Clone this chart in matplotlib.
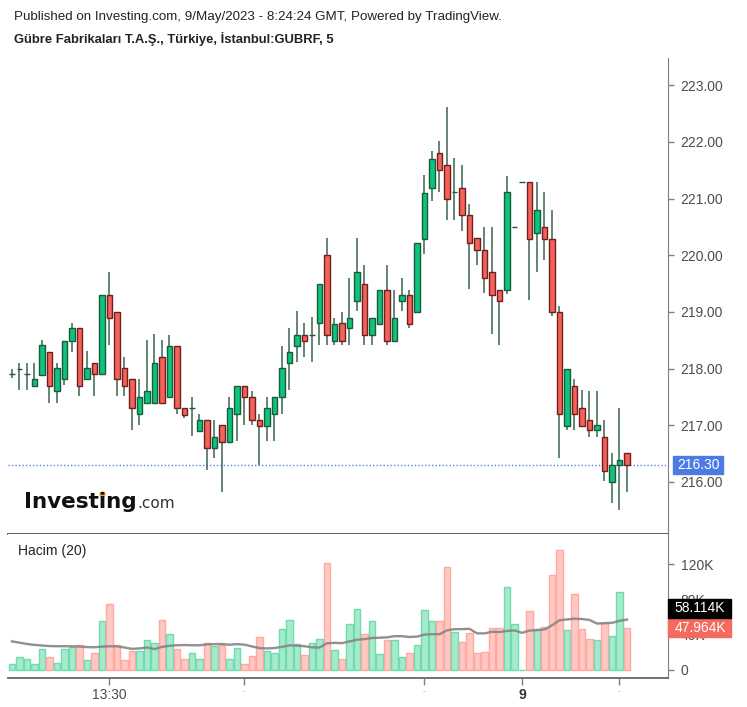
import numpy as np
import pandas as pd
import matplotlib.pyplot as plt
import matplotlib.transforms as mtransforms
from matplotlib.patches import Rectangle
from matplotlib.lines import Line2D

plt.rcParams['font.family'] = ['Liberation Sans', 'DejaVu Sans']

# 5 minute candles (GUBRF)
opens = [217.90, 218.00, 217.90, 217.69, 217.89, 218.29, 217.61, 217.81, 218.49, 218.71,
         217.81, 218.10, 217.90, 219.30, 219.00, 218.01, 217.81, 217.19, 217.39, 217.39,
         218.21, 217.50, 218.40, 217.30, 217.31, 216.90, 217.10, 216.59, 217.00, 216.70,
         217.19, 217.70, 217.50, 217.10, 216.99, 217.19, 217.50, 218.10, 218.40, 218.60,
         218.60, 218.80, 220.01, 218.49, 218.80, 218.71, 219.19, 219.50, 218.60, 218.79,
         219.39, 218.49, 219.20, 219.30, 219.00, 220.29, 221.19, 221.81, 221.59, 221.11,
         221.19, 220.71, 220.30, 220.09, 219.70, 219.39, 219.39, 220.49, 221.30, 221.30,
         220.40, 220.49, 220.29, 218.99, 216.99, 217.69, 217.30, 217.10, 216.91, 216.79,
         216.00, 216.29, 216.51]
highs = [218.00, 218.10, 218.10, 218.10, 218.50, 218.29, 218.10, 218.49, 218.80, 218.71,
         218.31, 218.10, 219.30, 219.70, 219.00, 218.21, 217.81, 217.81, 218.50, 218.61,
         218.50, 218.60, 218.40, 217.30, 217.50, 217.19, 217.10, 217.10, 217.00, 217.50,
         217.70, 217.70, 217.61, 217.19, 217.50, 217.50, 218.40, 218.72, 219.01, 218.80,
         218.91, 219.50, 220.30, 218.90, 219.00, 219.60, 220.30, 219.82, 218.90, 219.39,
         219.82, 219.39, 219.60, 219.39, 220.21, 221.42, 221.84, 222.02, 222.61, 221.71,
         221.59, 220.91, 220.30, 220.50, 220.50, 219.39, 221.40, 220.49, 221.30, 221.30,
         221.30, 221.11, 220.80, 219.10, 218.00, 217.81, 217.62, 217.61, 217.61, 217.10,
         216.51, 217.31, 216.51]
lows = [217.83, 217.62, 217.62, 217.69, 217.89, 217.40, 217.40, 217.71, 218.29, 217.51,
        217.81, 217.51, 217.90, 218.42, 217.51, 217.51, 216.92, 217.00, 217.39, 217.39,
        217.39, 217.50, 217.20, 217.12, 216.81, 216.90, 216.21, 216.42, 215.82, 216.70,
        216.72, 217.00, 217.00, 216.30, 216.72, 216.72, 217.20, 217.62, 218.11, 218.21,
        218.11, 218.41, 218.41, 218.42, 218.42, 218.42, 219.01, 218.42, 218.42, 218.79,
        218.42, 218.49, 219.01, 218.72, 219.00, 220.02, 220.95, 221.12, 220.62, 220.62,
        220.42, 219.41, 219.82, 219.33, 218.61, 218.42, 219.32, 220.49, 221.30, 219.21,
        219.71, 219.91, 218.92, 216.42, 216.92, 216.92, 216.99, 216.80, 216.80, 216.01,
        215.62, 215.51, 215.82]
closes = [217.90, 218.00, 217.90, 217.81, 218.41, 217.70, 218.01, 218.49, 218.71, 217.69,
          218.01, 217.90, 219.30, 218.90, 217.81, 217.70, 217.30, 217.50, 217.61, 218.10,
          217.39, 218.40, 217.30, 217.18, 217.31, 217.10, 216.59, 216.80, 216.70, 217.30,
          217.70, 217.50, 217.10, 216.99, 217.30, 217.50, 218.01, 218.29, 218.60, 218.48,
          218.60, 219.50, 218.60, 218.79, 218.49, 218.90, 219.70, 218.60, 218.90, 219.39,
          218.49, 218.90, 219.30, 218.79, 220.21, 221.10, 221.70, 221.50, 220.99, 221.11,
          220.71, 220.21, 220.09, 219.59, 219.30, 219.19, 221.11, 220.49, 221.30, 220.29,
          220.80, 220.29, 218.99, 217.19, 218.00, 217.19, 216.99, 216.91, 217.00, 216.19,
          216.30, 216.39, 216.30]
# volume in thousands
volumes = [6.8, 15.1, 12.5, 6.8, 23.8, 14.4, 8.3, 23.8, 25.7, 28.0,
           11.3, 19.7, 55.6, 74.9, 28.0, 11.3, 21.6, 21.6, 34.0, 31.0,
           56.7, 40.5, 23.8, 12.5, 19.7, 12.5, 31.0, 27.2, 28.4, 12.5,
           25.3, 6.8, 15.5, 37.1, 21.2, 19.7, 46.5, 56.7, 29.2, 17.0,
           31.0, 35.2, 122.0, 22.3, 12.5, 51.8, 69.2, 40.5, 55.2, 17.8,
           33.7, 33.7, 15.1, 19.7, 28.0, 67.7, 55.2, 55.2, 117.3, 43.5,
           32.2, 42.0, 19.7, 20.8, 48.0, 48.0, 94.6, 51.8, 0.0, 67.0,
           46.1, 49.2, 107.8, 135.8, 45.4, 86.3, 46.5, 35.2, 33.7, 53.7,
           38.2, 88.2, 47.964]
# volume MA(20) for the first candles (uses bars before the visible range)
ma_head = [32.5, 31.0, 29.5, 28.5, 27.8, 27.2, 27.0, 27.0, 26.9, 26.6,
           26.0, 25.8, 26.5, 26.9, 26.9, 25.5, 24.0, 24.5, 25.5]

price_ticks = [216, 217, 218, 219, 220, 221, 222, 223]
vol_ticks = [0, 40, 80, 120]
vol_tick_labels = ['0', '40K', '80K', '120K']
time_tick_idx = [13, 31, 55, 68, 81]
time_tick_labels = ['13:30', '-', '-', '9', '-']
last_price = 216.30
ma_label = '58.114K'
vol_label = '47.964K'

df = pd.DataFrame({'open': opens, 'high': highs, 'low': lows, 'close': closes, 'vol': volumes})
df['up'] = df['close'] >= df['open']
ma = df['vol'].rolling(20).mean().values
ma[:len(ma_head)] = ma_head
x = np.arange(len(df))

GREEN = '#0cc47c'
GREEN_EDGE = '#1c5a3b'
RED = '#f5625a'
RED_EDGE = '#6e1f1f'
WICK = '#3a6650'
TXT = '#4d4d4d'

W, H = 747, 707
fig = plt.figure(figsize=(W / 100, H / 100), dpi=100)
ax = fig.add_axes([8 / W, 173 / H, 660 / W, 476 / H])
axv = fig.add_axes([8 / W, 29 / H, 660 / W, 144 / H], sharex=ax)

# candles
ax.vlines(x, df['low'], df['high'], color=WICK, lw=1.1, zorder=1)
body_lo = np.minimum(df['open'], df['close'])
body_h = (df['close'] - df['open']).abs()
ax.bar(x, body_h, bottom=body_lo, width=0.72,
       color=np.where(df['up'], GREEN, RED),
       edgecolor=np.where(df['up'], GREEN_EDGE, RED_EDGE), lw=1, zorder=2)

ax.axhline(last_price, color='#5a82ec', ls=(0, (1, 1.5)), lw=1, zorder=0)

ax.set_xlim(-0.53, 87.47)
ax.set_ylim(215.08, 223.48)
ax.yaxis.tick_right()
ax.set_yticks(price_ticks)
ax.set_yticklabels(['%.2f' % t for t in price_ticks])
ax.tick_params(axis='y', direction='out', length=4, width=1, color='#7f7f7f',
               labelsize=10, labelcolor=TXT, pad=5)
ax.tick_params(axis='x', bottom=False, labelbottom=False)
for s in ['top', 'left']:
    ax.spines[s].set_visible(False)
ax.spines['right'].set_color('#7f7f7f')
ax.spines['bottom'].set_color('#555555')
ax.spines['bottom'].set_linewidth(1.3)

# price label
trans = mtransforms.blended_transform_factory(ax.transAxes, ax.transData)
ax.add_patch(Rectangle((1 + 4.5 / 660, last_price - 0.16), 51 / 660, 0.32,
                       transform=trans, color='#4d7be6', clip_on=False, zorder=5))
ax.text(1 + 30 / 660, last_price, '%.2f' % last_price, transform=trans, color='white',
        fontsize=10, ha='center', va='center', zorder=6)

# volume
axv.bar(x, df['vol'], width=0.84,
        color=np.where(df['up'], '#a6eacd', '#ffc8c3'),
        edgecolor=np.where(df['up'], '#6fdcac', '#ffa9a2'), lw=1, zorder=2)
axv.plot(x, ma, color='#858585', lw=1.7, alpha=0.9, zorder=3)
axv.set_ylim(-9.1, 154.4)
axv.yaxis.tick_right()
axv.set_yticks(vol_ticks)
axv.set_yticklabels(vol_tick_labels)
axv.tick_params(axis='y', direction='out', length=4, width=1, color='#7f7f7f',
                labelsize=10, labelcolor=TXT, pad=5)
axv.set_xticks(time_tick_idx)
axv.set_xticklabels(time_tick_labels)
axv.tick_params(axis='x', direction='out', length=5, width=1, color='#7f7f7f',
                labelsize=10, labelcolor=TXT, pad=2)
for lbl in axv.get_xticklabels():
    if lbl.get_text() == '-':
        lbl.set_fontsize(6)
        lbl.set_color('#999999')
    if lbl.get_text() == '9':
        lbl.set_fontweight('bold')
        lbl.set_color('#333333')
axv.spines['top'].set_visible(False)
axv.spines['left'].set_visible(False)
axv.spines['right'].set_color('#7f7f7f')
axv.spines['bottom'].set_color('#666666')
axv.spines['bottom'].set_linewidth(1.3)

vtrans = mtransforms.blended_transform_factory(axv.transAxes, axv.transData)
vy = volumes[-1]
box_h = 21.9
axv.add_patch(Rectangle((1, vy - box_h / 2), 63 / 660, box_h, transform=vtrans,
                        color='#f56a5e', clip_on=False, zorder=5))
axv.text(1 + 32 / 660, vy, vol_label, transform=vtrans, color='white', fontsize=10,
         ha='center', va='center', zorder=6)
axv.add_patch(Rectangle((1, vy + box_h / 2), 63 / 660, box_h, transform=vtrans,
                        color='black', clip_on=False, zorder=5))
axv.text(1 + 32 / 660, vy + box_h, ma_label, transform=vtrans, color='white', fontsize=10,
         ha='center', va='center', zorder=6)

axv.text(10 / 660, 0.88, 'Hacim (20)', transform=axv.transAxes, fontsize=10,
         color='#222222', ha='left', va='center')

# header
fig.text(14 / W, 1 - 17 / H, 'Published on Investing.com, 9/May/2023 - 8:24:24 GMT, Powered by TradingView.',
         fontsize=9.6, color='#222222', ha='left', va='center')
fig.text(14 / W, 1 - 39 / H, 'Gübre Fabrikaları T.A.Ş., Türkiye, İstanbul:GUBRF, 5',
         fontsize=9.4, fontweight='bold', color='#222222', ha='left', va='center')

# watermark logo
logo_kw = dict(family='DejaVu Sans', fontweight='bold', fontsize=15.5, color='#111111')
t_logo = fig.text(24 / W, 1 - 508 / H, 'Investing', ha='left', va='baseline', **logo_kw)
fig.canvas.draw()
r = fig.canvas.get_renderer()
bb = t_logo.get_window_extent(r)
fig.text(bb.x1 / W + 1 / W, 1 - 508 / H, '.com', ha='left', va='baseline',
         family='DejaVu Sans', fontsize=11, color='#333333')
tmp = fig.text(24 / W, 1 - 508 / H, 'Invest', ha='left', va='baseline', **logo_kw)
wi = tmp.get_window_extent(r).x1
tmp.remove()
fig.add_artist(Line2D([(wi + 2.9) / W], [1 - 494 / H], marker='o', ms=3.4,
                      color='#f5a623', transform=fig.transFigure))

fig.savefig('out.png', dpi=100)
